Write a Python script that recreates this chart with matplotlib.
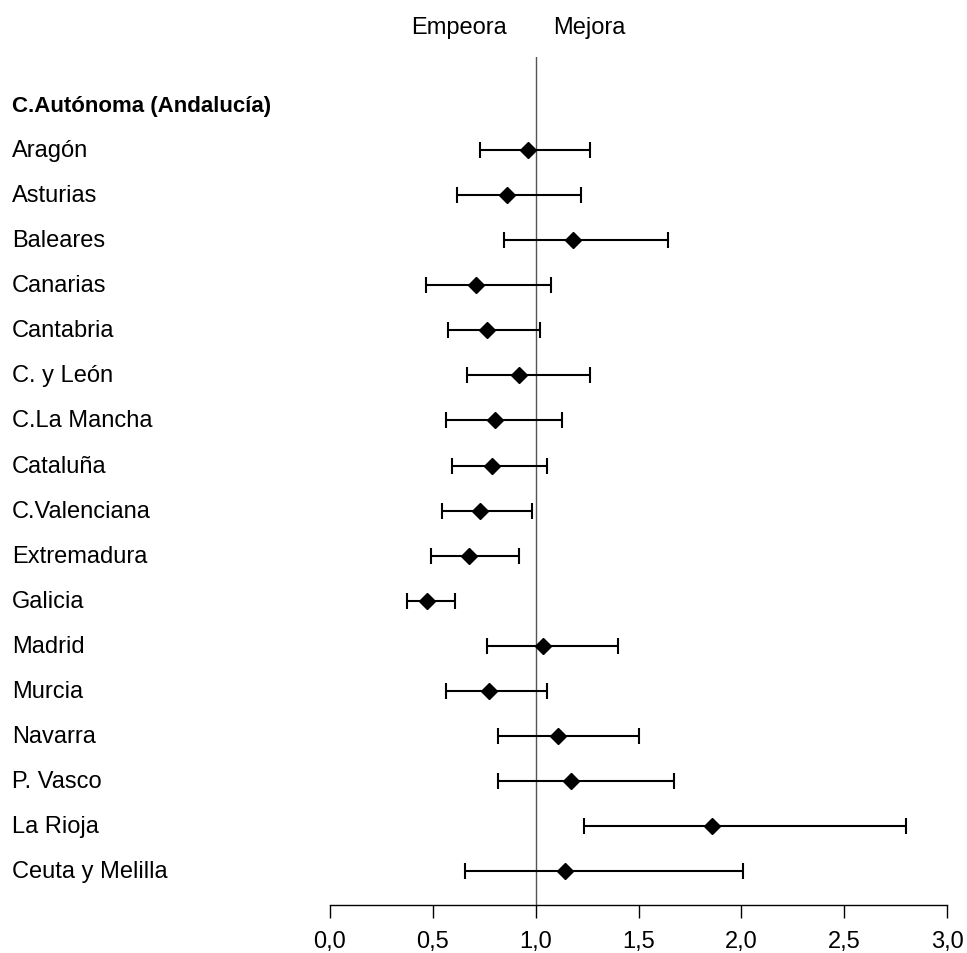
import matplotlib
matplotlib.use("Agg")
import matplotlib.pyplot as plt
from matplotlib.transforms import blended_transform_factory
from matplotlib.ticker import FuncFormatter

plt.rcParams['font.family'] = ['Liberation Sans', 'DejaVu Sans']

header = "C.Autónoma (Andalucía)"
regions = ["Aragón", "Asturias", "Baleares", "Canarias", "Cantabria", "C. y León",
           "C.La Mancha", "Cataluña", "C.Valenciana", "Extremadura", "Galicia",
           "Madrid", "Murcia", "Navarra", "P. Vasco", "La Rioja", "Ceuta y Melilla"]
point = [0.963, 0.863, 1.183, 0.710, 0.763, 0.919, 0.801, 0.789, 0.728, 0.674, 0.472,
         1.035, 0.772, 1.107, 1.172, 1.855, 1.145]
lower = [0.729, 0.619, 0.846, 0.467, 0.574, 0.664, 0.564, 0.592, 0.546, 0.491, 0.374,
         0.763, 0.563, 0.818, 0.818, 1.236, 0.657]
upper = [1.264, 1.219, 1.645, 1.073, 1.019, 1.264, 1.128, 1.055, 0.981, 0.919, 0.609,
         1.400, 1.055, 1.501, 1.672, 2.803, 2.009]
xticks = [0.0, 0.5, 1.0, 1.5, 2.0, 2.5, 3.0]

fig = plt.figure(figsize=(9.67, 9.54), dpi=100)
ax = fig.add_axes([330/967, 48/954, (947-330)/967, (906-58)/954])

ys = list(range(1, len(regions) + 1))
xerr = [[p - l for p, l in zip(point, lower)], [u - p for p, u in zip(point, upper)]]
ax.errorbar(point, ys, xerr=xerr, fmt='D', color='black', ms=8, ecolor='black',
            elinewidth=1.5, capsize=6, capthick=1.5)
ax.axvline(1.0, color='#555555', lw=1.0, zorder=0)

ax.set_xlim(0, 3)
ax.set_ylim(17.75, -1.065)
ax.set_xticks(xticks)
ax.xaxis.set_major_formatter(FuncFormatter(lambda v, p: f"{v:.1f}".replace('.', ',')))
ax.tick_params(axis='x', direction='out', length=9, width=1, labelsize=17, pad=9)
ax.set_yticks([])
for s in ['left', 'right', 'top']:
    ax.spines[s].set_visible(False)
ax.spines['bottom'].set_linewidth(1)

tr = blended_transform_factory(fig.transFigure, ax.transData)
ax.text(12/967, 0, header, transform=tr, ha='left', va='center', fontsize=16,
        fontweight='bold')
for y, name in zip(ys, regions):
    ax.text(12/967, y, name, transform=tr, ha='left', va='center', fontsize=17)

fig.text(507/967, 1 - 28/954, "Empeora", ha='right', va='center', fontsize=17)
fig.text(553/967, 1 - 28/954, "Mejora", ha='left', va='center', fontsize=17)

fig.savefig("out.png", dpi=100)
